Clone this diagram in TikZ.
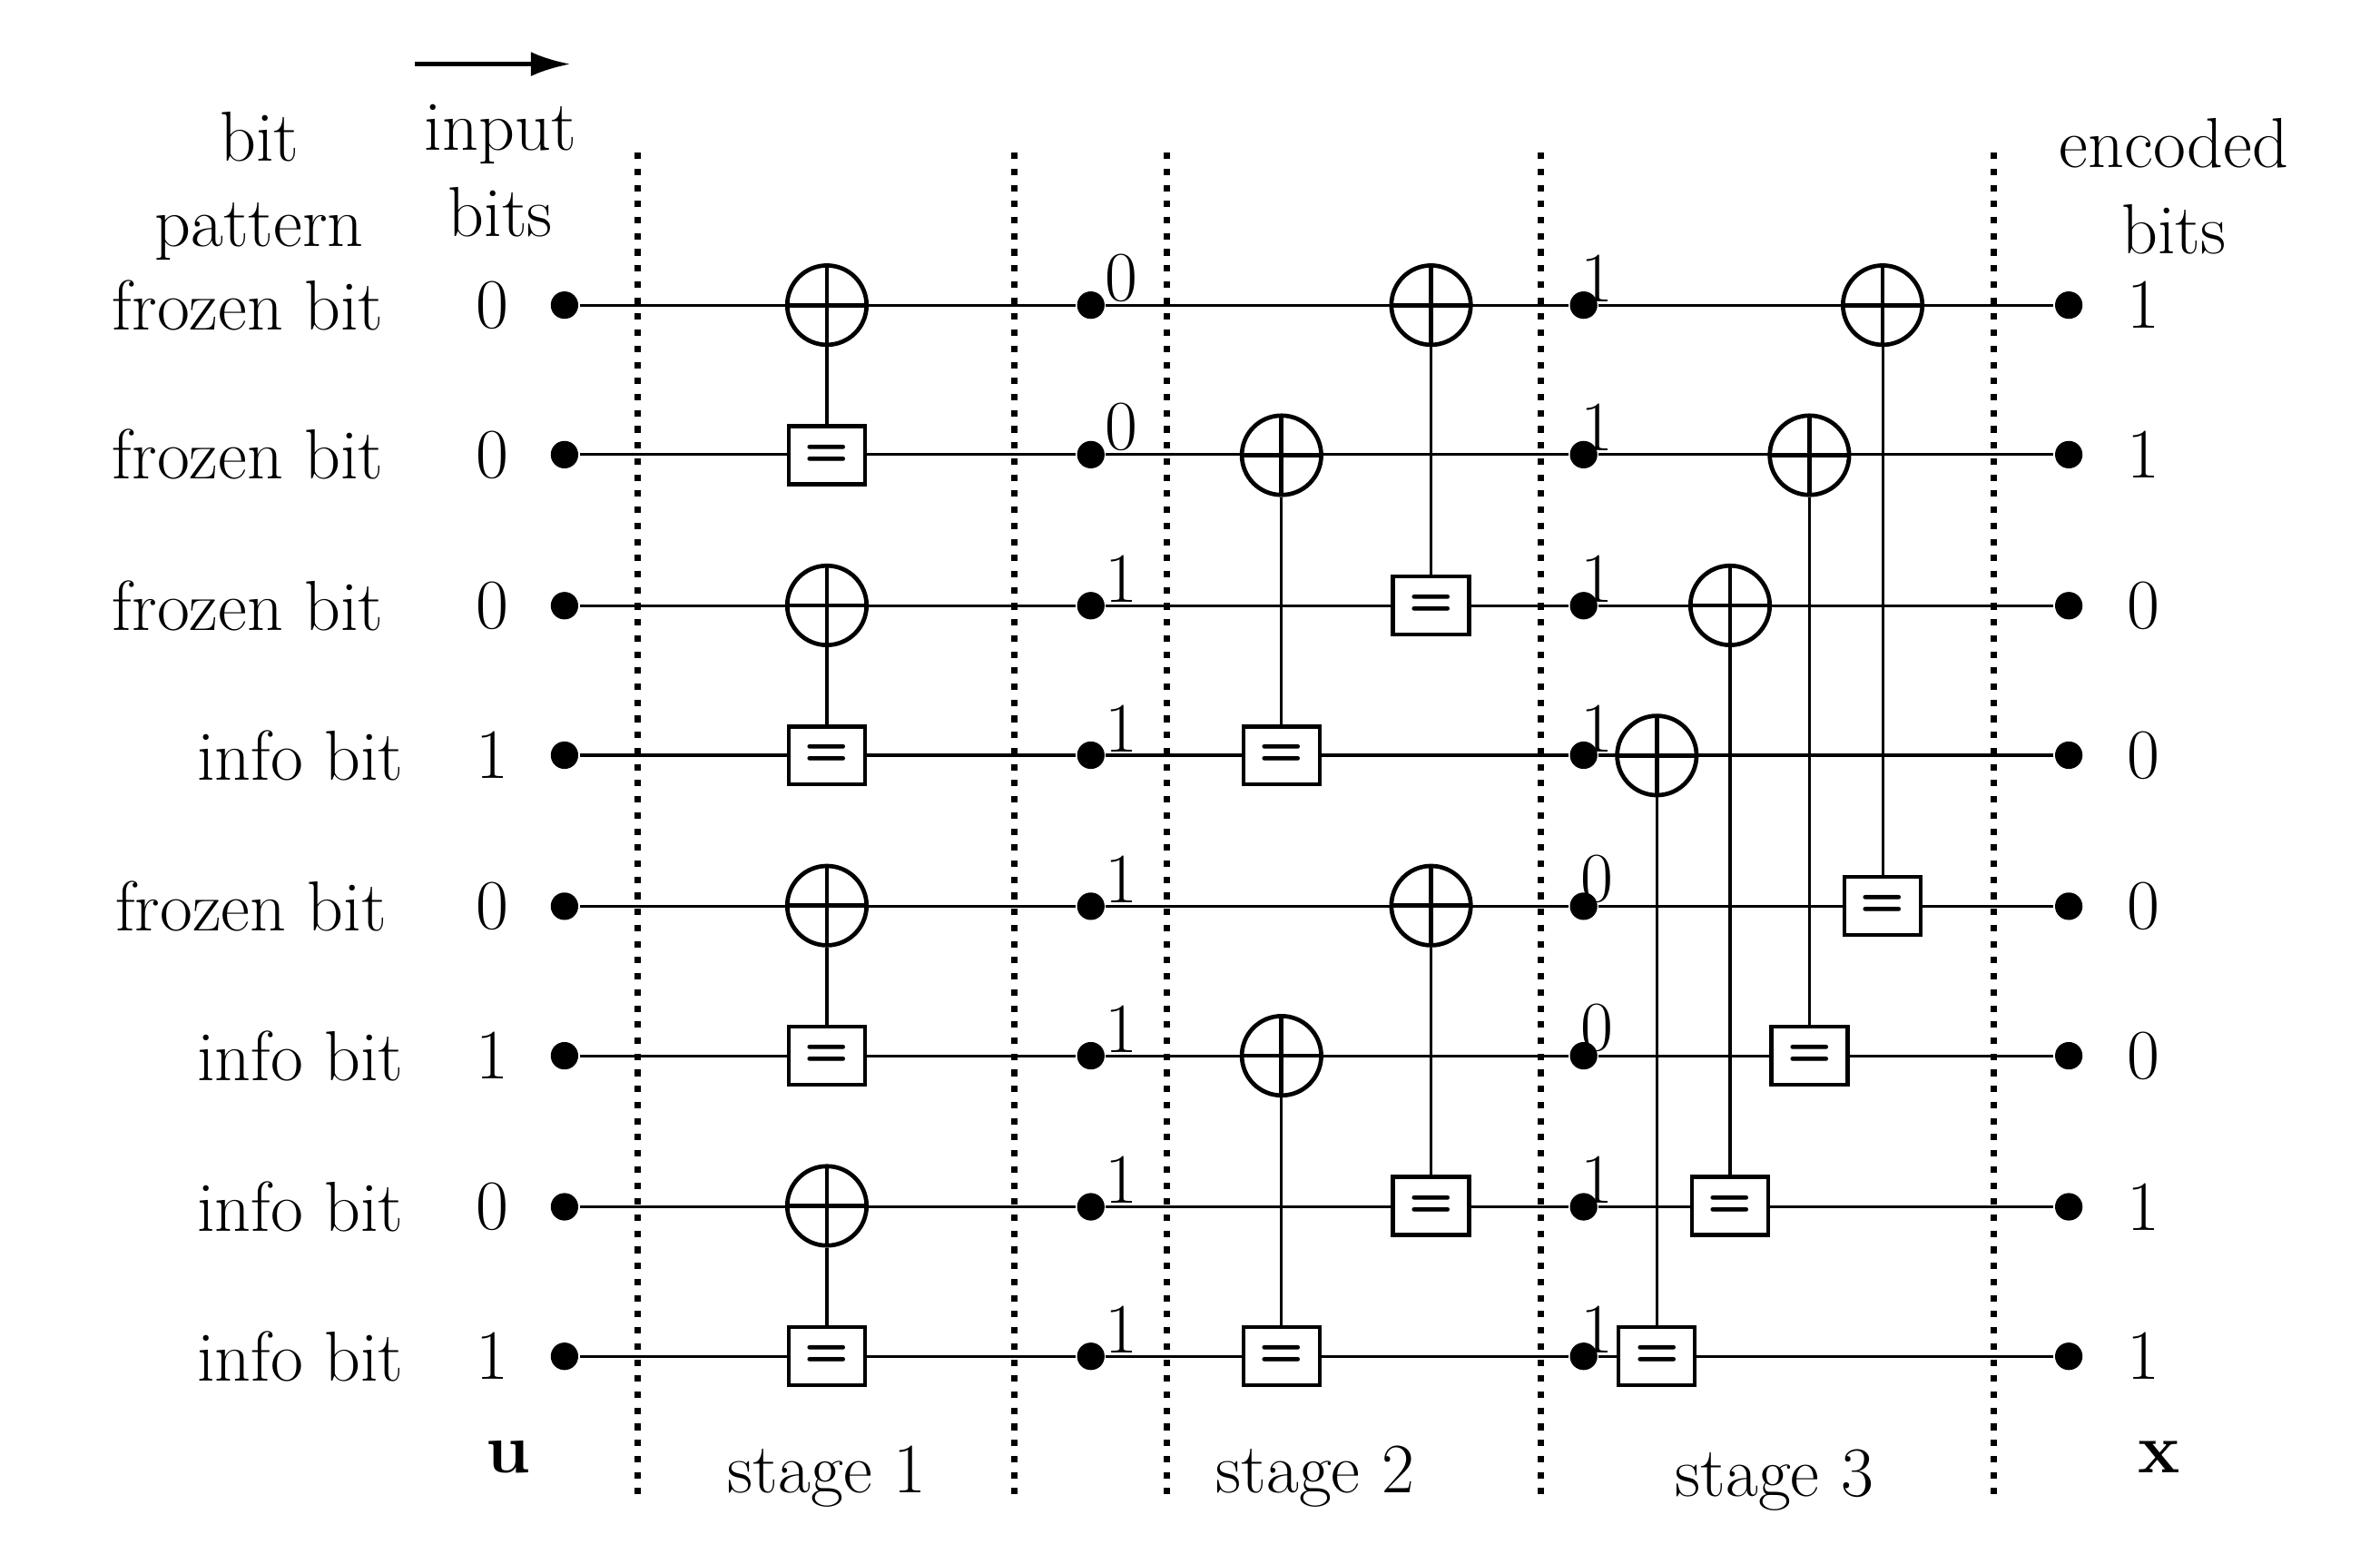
\documentclass[tikz,border=0pt]{standalone}
\usetikzlibrary{arrows.meta}
\tikzset{
  wiredot/.style={circle, fill=black, inner sep=0pt, minimum size=0.45cm},
  xorgate/.style={circle, draw, line width=2pt, fill=white, minimum size=1.3cm, inner sep=0pt,
    path picture={\draw[line width=2pt] (path picture bounding box.north) -- (path picture bounding box.south)
      (path picture bounding box.west) -- (path picture bounding box.east);}},
  eqgate/.style={rectangle, draw, line width=1.8pt, fill=white, minimum width=1.25cm, minimum height=0.95cm, inner sep=0pt, font=\fontsize{24}{26}\selectfont\sffamily\bfseries},
  stagesep/.style={line width=3pt, dash pattern=on 3pt off 4.5pt},
  lbl/.style={font=\fontsize{33}{38}\selectfont}
}
\begin{document}
\begin{tikzpicture}[x=0.025cm, y=-0.025cm, line width=1.3pt]
\useasboundingbox (0,0) rectangle (1560,1018);
% separators
\foreach \sx in {418,665,765,1010,1307}
  \draw[stagesep] (\sx,100) -- (\sx,985);
% headings
\node[lbl, align=center] (hpat) at (170,122) {bit\\[2pt]pattern};
\node[lbl, align=center] (hin) at (328,112) {input\\[2pt]bits};
\node[lbl, align=center] (hout) at (1425,122) {encoded\\[2pt]bits};
\coordinate (arrA) at (272,42);
\coordinate (arrB) at (374,42);
\draw[-{Latex[length=0.65cm,width=0.4cm]}, line width=2.2pt] (arrA) -- (arrB);
\node[lbl] (uvec) at (333,955) {\textbf{u}};
\node[lbl] (xvec) at (1415,955) {\textbf{x}};
\node[lbl] (st1) at (542,968) {stage 1};
\node[lbl] (st2) at (862,968) {stage 2};
\node[lbl] (st3) at (1163,970) {stage 3};
% rows
\foreach \r/\yy/\pat/\px/\ui/\ma/\mb/\xo in {0/200/frozen bit/257/0/0/1/1, 1/298/frozen bit/257/0/0/1/1,
    2/397/frozen bit/257/0/1/1/0, 3/495/info bit/270/1/1/1/0, 4/594/frozen bit/259/0/1/0/0,
    5/692/info bit/270/1/1/0/0, 6/791/info bit/270/0/1/1/1, 7/889/info bit/270/1/1/1/1} {
  \node[lbl, anchor=east] (pat\r) at (\px,\yy) {\pat};
  \node[lbl] (in\r) at (323,\yy) {\ui};
  \node[wiredot] (d\r) at (370,\yy) {};
  \node[wiredot] (m\r) at (715,\yy) {};
  \node[wiredot] (n\r) at (1038,\yy) {};
  \node[wiredot] (o\r) at (1356,\yy) {};
  \node[lbl, anchor=south west, inner sep=1pt] (va\r) at (722,\yy) {\ma};
  \node[lbl, anchor=south west, inner sep=1pt] (vb\r) at (1034,\yy) {\mb};
  \node[lbl] (out\r) at (1405,\yy) {\xo};
  \draw (d\r) -- (m\r) -- (n\r) -- (o\r);
}
% gates: name / x / row of xor / row of eq
\foreach \g/\gx/\ra/\rb in {a/542/0/1, b/542/2/3, c/542/4/5, d/542/6/7,
    e/840/1/3, f/840/5/7, g/938/0/2, h/938/4/6,
    i/1086/3/7, j/1134/2/6, k/1186/1/5, l/1234/0/4} {
  \node[xorgate] (x\g) at (\gx,{200+98.4*\ra}) {};
  \node[eqgate] (e\g) at (\gx,{200+98.4*\rb}) {=};
  \draw (x\g.south) -- (e\g.north);
}
\end{tikzpicture}
\end{document}
